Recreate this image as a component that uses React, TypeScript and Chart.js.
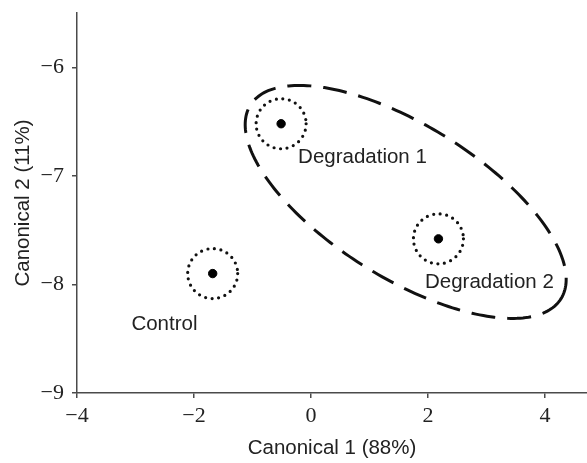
import React, { useEffect, useRef } from "react";
import { Chart, registerables } from "chart.js";

Chart.register(...registerables);

const groups = ["Control", "Degradation 1", "Degradation 2"];
const canonical1 = [-1.68, -0.51, 2.18];
const canonical2 = [-7.9, -6.52, -7.58];
const labelX = [-3.07, -0.22, 1.95];
const labelY = [-8.37, -6.83, -7.98];
const xTicks = [-4, -2, 0, 2, 4];
const yTicks = [-9, -8, -7, -6];
const xRange = [-4, 4.72];
const yRange = [-9, -5.5];
// dashed grouping ellipse (data units): centre and two conjugate half-axis vectors
const ellipseCenter = [1.62, -7.24];
const ellipseMajor = [2.656, -0.891];
const ellipseMinor = [-0.69, -0.598];

const AXIS_COLOR = "#4a4a4a";
const SANS = '"Liberation Sans", Arial, sans-serif';
const SERIF = '"Liberation Serif", "DejaVu Serif", serif';
const fmt = (v: number) => (v < 0 ? "\u2212" + Math.abs(v) : String(v));

const overlayPlugin = {
  id: "overlay",
  afterDatasetsDraw(chart: any) {
    const { ctx, scales } = chart;
    const xs = scales.x;
    const ys = scales.y;
    ctx.save();
    // dotted circles around group means
    ctx.strokeStyle = "#111";
    ctx.lineWidth = 3.2;
    ctx.lineCap = "round";
    ctx.setLineDash([0, 6.6]);
    for (let i = 0; i < canonical1.length; i++) {
      const px = xs.getPixelForValue(canonical1[i]);
      const py = ys.getPixelForValue(canonical2[i]);
      ctx.beginPath();
      ctx.arc(px, py, 25, 0, Math.PI * 2);
      ctx.stroke();
    }
    // dashed ellipse
    ctx.lineCap = "butt";
    ctx.lineWidth = 3;
    ctx.setLineDash([24, 12]);
    ctx.beginPath();
    const n = 240;
    for (let k = 0; k <= n; k++) {
      const t = (k / n) * Math.PI * 2;
      const dx = ellipseMajor[0] * Math.cos(t) + ellipseMinor[0] * Math.sin(t);
      const dy = ellipseMajor[1] * Math.cos(t) + ellipseMinor[1] * Math.sin(t);
      const px = xs.getPixelForValue(ellipseCenter[0] + dx);
      const py = ys.getPixelForValue(ellipseCenter[1] + dy);
      if (k === 0) ctx.moveTo(px, py);
      else ctx.lineTo(px, py);
    }
    ctx.stroke();
    ctx.setLineDash([]);
    // group labels
    ctx.fillStyle = "#222";
    ctx.font = "20.5px " + SANS;
    ctx.textAlign = "left";
    ctx.textBaseline = "middle";
    for (let i = 0; i < groups.length; i++) {
      ctx.fillText(groups[i], xs.getPixelForValue(labelX[i]), ys.getPixelForValue(labelY[i]));
    }
    ctx.restore();
  },
};

const noPad = (s: any) => {
  s.paddingTop = 0;
  s.paddingBottom = 0;
  s.paddingLeft = 0;
  s.paddingRight = 0;
};

export default function App() {
  const ref = useRef<HTMLCanvasElement>(null);
  useEffect(() => {
    if (!ref.current) return;
    const chart = new Chart(ref.current, {
      type: "scatter",
      data: {
        datasets: [
          {
            label: "Group means",
            data: canonical1.map((x, i) => ({ x, y: canonical2[i] })),
            backgroundColor: "#000",
            borderColor: "#000",
            pointRadius: 4.2,
            pointHoverRadius: 4.2,
          },
        ],
      },
      options: {
        animation: false,
        responsive: false,
        events: [],
        layout: { autoPadding: false, padding: { top: 13, right: 0, left: 0, bottom: 0 } },
        plugins: { legend: { display: false }, tooltip: { enabled: false } },
        scales: {
          x: {
            type: "linear",
            min: xRange[0],
            max: xRange[1],
            afterBuildTicks: (s: any) => {
              s.ticks = xTicks.map((v) => ({ value: v }));
            },
            afterFit: (s: any) => {
              s.height = 70;
              noPad(s);
            },
            border: { display: true, color: AXIS_COLOR, width: 1.5 },
            grid: { display: true, drawOnChartArea: false, drawTicks: true, tickLength: 5, color: AXIS_COLOR, lineWidth: 1.5 },
            ticks: {
              callback: (v: any) => fmt(Number(v)),
              color: "#222",
              padding: 5,
              maxRotation: 0,
              font: { family: SERIF, size: 22 },
            },
            title: {
              display: true,
              text: "Canonical 1 (88%)",
              color: "#222",
              padding: { top: 0, bottom: 2 },
              font: { family: SANS, size: 20.5 },
            },
          },
          y: {
            type: "linear",
            min: yRange[0],
            max: yRange[1],
            afterBuildTicks: (s: any) => {
              s.ticks = yTicks.map((v) => ({ value: v }));
            },
            afterFit: (s: any) => {
              s.width = 77;
              noPad(s);
            },
            border: { display: true, color: AXIS_COLOR, width: 1.5 },
            grid: { display: true, drawOnChartArea: false, drawTicks: true, tickLength: 5, color: AXIS_COLOR, lineWidth: 1.5 },
            ticks: {
              callback: (v: any) => fmt(Number(v)),
              color: "#222",
              padding: 8,
              font: { family: SERIF, size: 22 },
            },
            title: {
              display: true,
              text: "Canonical 2 (11%)",
              color: "#222",
              padding: { top: 11, bottom: 0 },
              font: { family: SANS, size: 20.5 },
            },
          },
        },
      },
      plugins: [overlayPlugin],
    });
    return () => chart.destroy();
  }, []);
  return (
    <div style={{ position: "fixed", left: 0, top: 0, width: 587, height: 463, background: "#fff" }}>
      <canvas ref={ref} width={587} height={463} style={{ display: "block" }} />
    </div>
  );
}
